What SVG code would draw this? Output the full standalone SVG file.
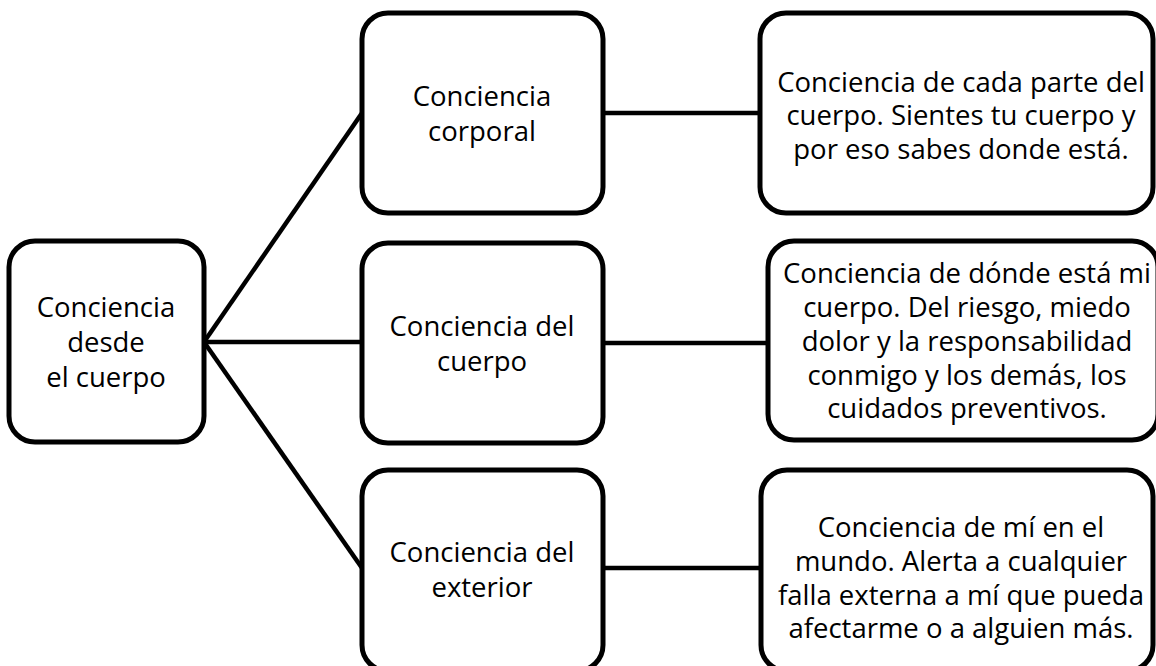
<svg xmlns="http://www.w3.org/2000/svg" width="1156" height="666" viewBox="0 0 1156 666">
<style>
.box{fill:#fff;stroke:#000;stroke-width:5}
.t{font-family:"Open Sans","Noto Sans","DejaVu Sans",sans-serif;font-size:27.5px;fill:#000;text-anchor:middle}
.c{stroke:#000;stroke-width:4.5;fill:none}
</style>
<rect width="1156" height="666" fill="#fff"/>
<g id="connectors">
<line class="c" x1="204" y1="342" x2="362" y2="113"/>
<line class="c" x1="204" y1="342" x2="362" y2="342"/>
<line class="c" x1="204" y1="342" x2="362" y2="568"/>
<line class="c" x1="603" y1="113" x2="760" y2="113"/>
<line class="c" x1="603" y1="343" x2="768" y2="343"/>
<line class="c" x1="603" y1="568" x2="761" y2="568"/>
</g>
<g id="n0">
<rect class="box" x="9" y="241" width="195" height="201" rx="26"/>
<text class="t" x="106" y="317">Conciencia</text>
<text class="t" x="106" y="352">desde</text>
<text class="t" x="106" y="387">el cuerpo</text>
</g>
<g id="n1">
<rect class="box" x="362" y="13" width="241" height="200" rx="26"/>
<text class="t" x="482" y="106">Conciencia</text>
<text class="t" x="482" y="141">corporal</text>
</g>
<g id="n2">
<rect class="box" x="362" y="243" width="241" height="200" rx="26"/>
<text class="t" x="482" y="336">Conciencia del</text>
<text class="t" x="482" y="371">cuerpo</text>
</g>
<g id="n3">
<rect class="box" x="362" y="470" width="241" height="201" rx="26"/>
<text class="t" x="482" y="562">Conciencia del</text>
<text class="t" x="482" y="597">exterior</text>
</g>
<g id="n4">
<rect class="box" x="760" y="13" width="393" height="200" rx="26"/>
<text class="t" x="961" y="92">Conciencia de cada parte del</text>
<text class="t" x="961" y="125">cuerpo. Sientes tu cuerpo y</text>
<text class="t" x="961" y="159">por eso sabes donde está.</text>
</g>
<g id="n5">
<rect class="box" x="768" y="241" width="390" height="199" rx="26"/>
<text class="t" x="967" y="283">Conciencia de dónde está mi</text>
<text class="t" x="967" y="317">cuerpo. Del riesgo, miedo</text>
<text class="t" x="967" y="351">dolor y la responsabilidad</text>
<text class="t" x="967" y="385">conmigo y los demás, los</text>
<text class="t" x="967" y="418">cuidados preventivos.</text>
</g>
<g id="n6">
<rect class="box" x="761" y="470" width="392" height="201" rx="26"/>
<text class="t" x="961" y="537">Conciencia de mí en el</text>
<text class="t" x="961" y="571">mundo. Alerta a cualquier</text>
<text class="t" x="961" y="605">falla externa a mí que pueda</text>
<text class="t" x="961" y="638">afectarme o a alguien más.</text>
</g>
</svg>
